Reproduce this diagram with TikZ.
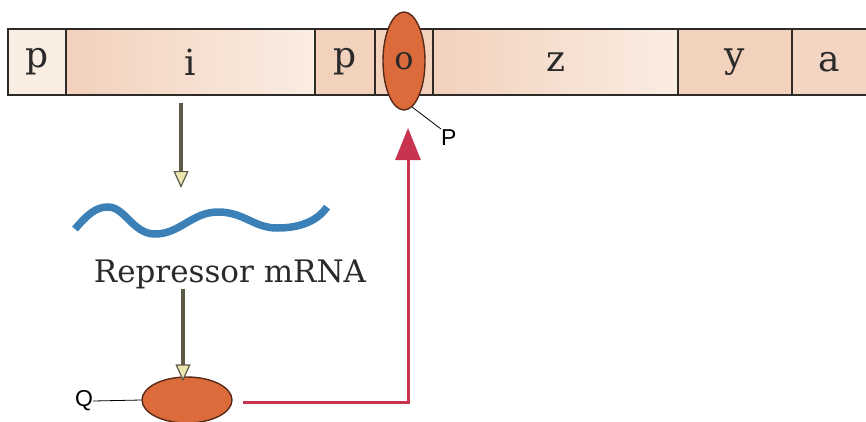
\documentclass[tikz,border=0pt]{standalone}
\usepackage{fontspec}
\setmainfont{DejaVu Serif}
\newfontfamily\labelfont{Liberation Sans}
\usetikzlibrary{shapes.geometric,arrows.meta}
\definecolor{pale}{HTML}{FAEDE2}
\definecolor{pinkish}{HTML}{F2D1BD}
\definecolor{boxline}{HTML}{2E2A28}
\definecolor{orangefill}{HTML}{DC6B3C}
\definecolor{orangeline}{HTML}{5A2A18}
\definecolor{wavecol}{HTML}{3B80B6}
\definecolor{redcol}{HTML}{C8344F}
\definecolor{shaftcol}{HTML}{5E5A48}
\definecolor{headfill}{HTML}{EDE6B0}
\definecolor{txt}{HTML}{2A2A2A}
\begin{document}
\begin{tikzpicture}[x=1pt,y=-1pt,
  genebox/.style={draw=boxline, line width=1.4pt, inner sep=0pt, minimum height=66pt,
    text=txt, font=\fontsize{36}{36}\selectfont},
  blob/.style={ellipse, draw=orangeline, line width=1.4pt, fill=orangefill, inner sep=0pt},
  genearrow/.style={draw=shaftcol, line width=4.5pt,
    -{Triangle[length=17pt,width=15pt,fill=headfill,line width=1.2pt]}},
  redarrow/.style={draw=redcol, line width=3pt,
    -{Triangle[length=32pt,width=25pt]}},
  lbl/.style={text=black, font=\labelfont\fontsize{23}{23}\selectfont, inner sep=0pt},
  leader/.style={draw=black, line width=0.8pt}
]
\useasboundingbox (0,0) rectangle (866,421);

% gene bar
\node[genebox, fill=pale, minimum width=58pt] (p1) at (37,62) {p};
\node[genebox, left color=pinkish, right color=pale, minimum width=249pt] (gi) at (190.5,62) {i};
\node[genebox, fill=pinkish, minimum width=60pt] (p2) at (345,62) {p};
\node[genebox, fill=pinkish, minimum width=58pt] (go) at (404,62) {};
\node[genebox, left color=pinkish, right color=pale, minimum width=245pt] (gz) at (555.5,62) {z};
\node[genebox, fill=pinkish, minimum width=114pt] (gy) at (735,62) {y};
\node[genebox, fill=pinkish!85!pale, minimum width=74pt] (ga) at (829.5,62) {a};

% operator with bound repressor
\node[blob, minimum width=42pt, minimum height=98pt, text=txt,
  font=\fontsize{32}{32}\selectfont] (op) at (404,61) {o};
\node[lbl, anchor=north west] (plabel) at (441,129) {P};
\draw[leader] (op.-80) -- (plabel.north west);

% arrow from i gene to mRNA
\coordinate (a1s) at (181,103);
\coordinate (a1e) at (181,188);
\draw[genearrow] (a1s) -- (a1e);

% mRNA wave
\coordinate (w0) at (75,229);
\coordinate (w1) at (108,207);
\coordinate (w2) at (155,234);
\coordinate (w3) at (218,212);
\coordinate (w4) at (277,228);
\coordinate (w5) at (327,207);
\draw[wavecol, line width=7.5pt, line cap=butt]
  (w0) .. controls (88,214) and (96,207) .. (w1)
       .. controls (125,207) and (133,234) .. (w2)
       .. controls (180,234) and (192,212) .. (w3)
       .. controls (244,212) and (254,228) .. (w4)
       .. controls (302,228) and (318,220) .. (w5);

\node[text=txt, font=\fontsize{31}{31}\selectfont, anchor=base] (rm) at (230,282) {Repressor mRNA};

% repressor protein
\node[blob, minimum width=90pt, minimum height=46pt] (rep) at (187,400) {};
\coordinate (a2s) at (183,289);
\draw[genearrow] (a2s) -- ([xshift=-4pt,yshift=-5pt]rep.north);

\node[lbl] (qlabel) at (84,401) {Q};
\draw[leader] (qlabel.east) -- (rep.west);

% repressor binds operator
\coordinate (redtip) at (408,128);
\draw[redarrow] ([xshift=10pt,yshift=-2pt]rep.east) -| (redtip);
\end{tikzpicture}
\end{document}
